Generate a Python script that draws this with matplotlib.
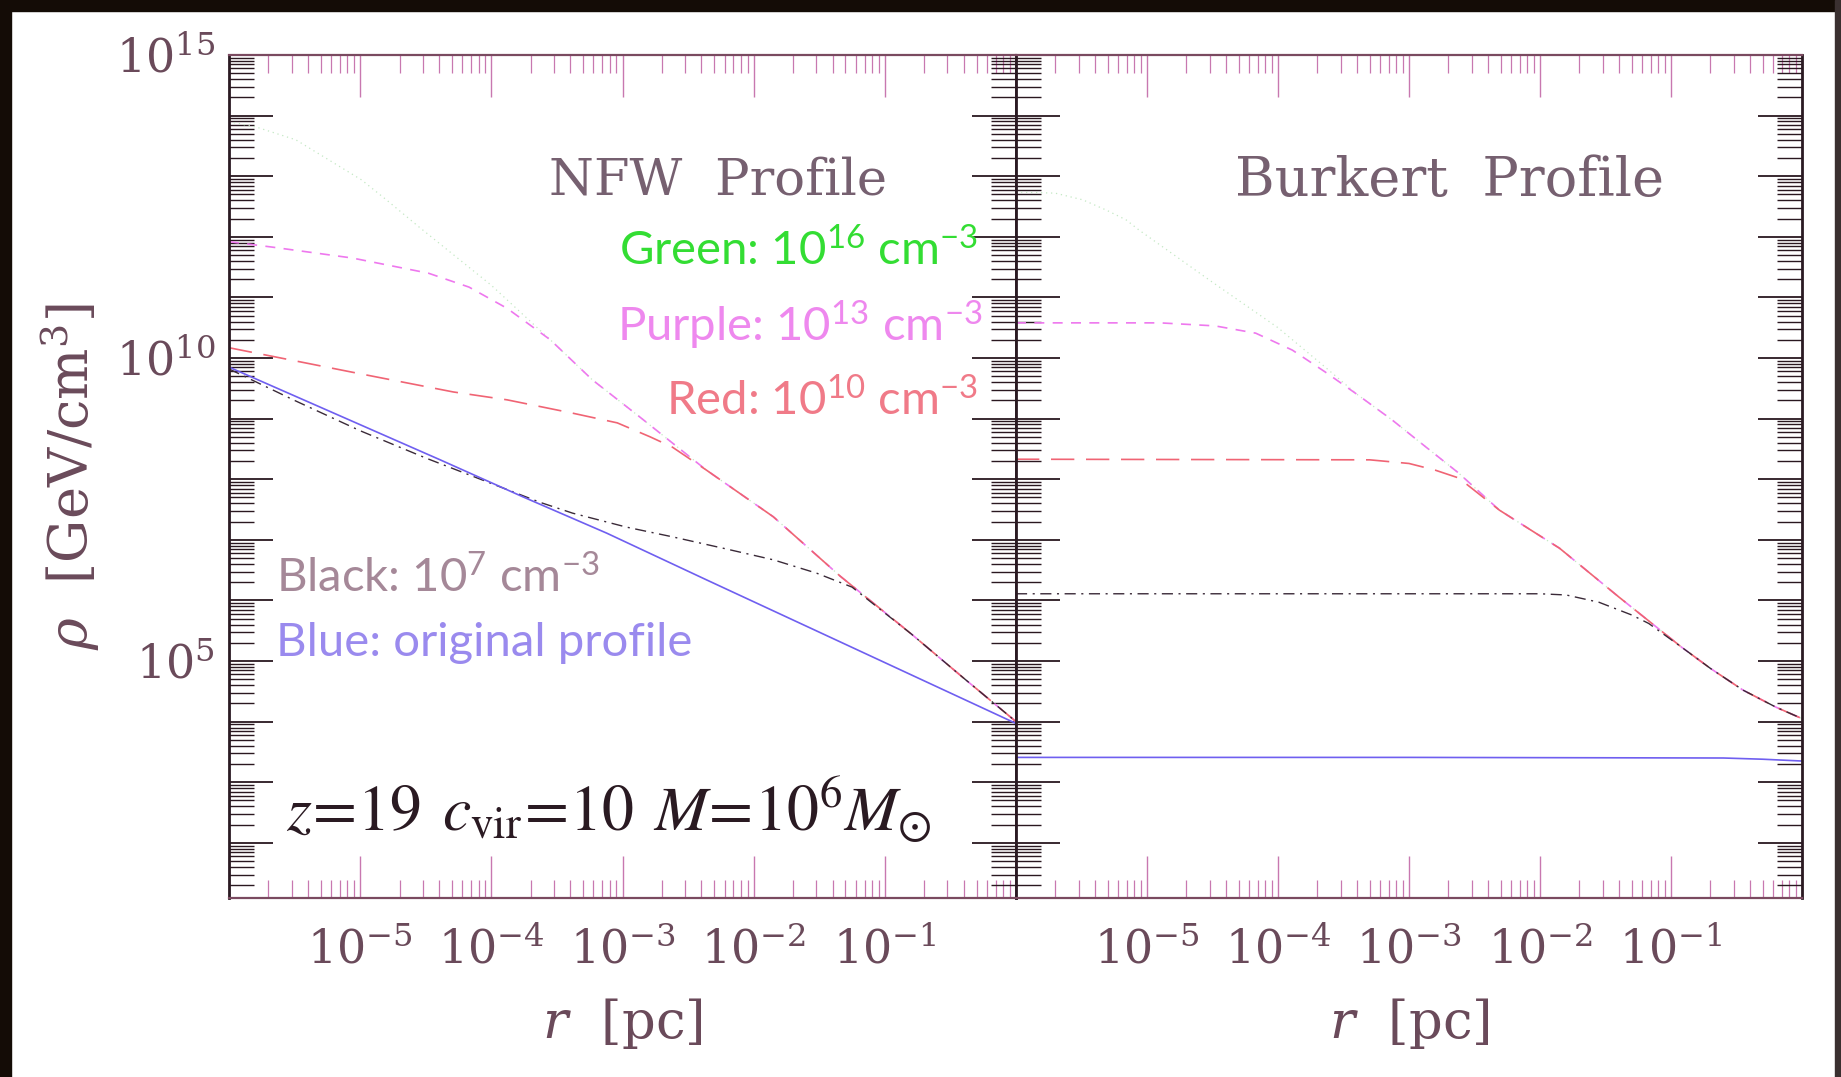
import numpy as np
import matplotlib
matplotlib.use("Agg")
import matplotlib.pyplot as plt
from matplotlib.ticker import LogLocator, FuncFormatter, NullFormatter
from matplotlib.patches import Rectangle

plt.rcParams['mathtext.fontset'] = 'custom'
plt.rcParams['mathtext.rm'] = 'Lato'
plt.rcParams['mathtext.it'] = 'Lato:italic'
plt.rcParams['mathtext.bf'] = 'Lato:bold'

# ---------------- data (log10 r [pc], log10 rho [GeV/cm^3]) ----------------
# NFW panel
nfw_blue_x  = [-6.0, -4.39, -3.76, -3.12, -2.36, 0.0]
nfw_blue_y  = [9.85, 8.32, 7.71, 7.11, 6.34, 3.97]
nfw_black_x = [-6.0, -5.5, -5.0, -4.5, -4.0, -3.63, -3.38, -2.97, -2.62, -2.23, -1.85, -1.52, -1.25, -0.8, -0.4, 0.0]
nfw_black_y = [9.82, 9.30, 8.80, 8.35, 7.93, 7.62, 7.44, 7.21, 7.05, 6.86, 6.67, 6.45, 6.22, 5.45, 4.72, 4.0]
nfw_red_x   = [-6.0, -5.0, -4.29, -3.88, -3.38, -3.04, -2.79, -2.62, -2.36, -1.85, -1.34, -0.8, -0.4, 0.0]
nfw_red_y   = [10.17, 9.74, 9.44, 9.31, 9.09, 8.93, 8.70, 8.53, 8.15, 7.38, 6.40, 5.45, 4.72, 4.0]
nfw_purple_x = [-6.0, -5.67, -5.06, -4.48, -4.17, -3.88, -3.55, -3.23, -2.87, -2.36, -1.85, -1.34, -0.8, -0.4, 0.0]
nfw_purple_y = [11.92, 11.83, 11.65, 11.40, 11.17, 10.82, 10.30, 9.64, 9.03, 8.15, 7.38, 6.40, 5.45, 4.72, 4.0]
nfw_green_x = [-6.0, -5.79, -5.49, -5.24, -4.99, -4.80, -4.55, -4.0, -3.55, -3.23, -2.87, -2.36, -1.85, -1.34, -0.8, -0.4, 0.0]
nfw_green_y = [13.90, 13.81, 13.60, 13.27, 12.94, 12.61, 12.16, 11.20, 10.30, 9.64, 9.03, 8.15, 7.38, 6.40, 5.45, 4.72, 4.0]

# Burkert panel
bur_blue_x  = [-6.0, -3.0, -0.6, -0.3, 0.0]
bur_blue_y  = [3.41, 3.41, 3.40, 3.38, 3.35]
bur_black_x = [-6.0, -2.0, -1.80, -1.55, -1.30, -1.17, -0.92, -0.70, -0.45, -0.20, 0.0]
bur_black_y = [6.11, 6.11, 6.09, 5.97, 5.76, 5.62, 5.23, 4.88, 4.52, 4.24, 4.05]
bur_red_x   = [-6.0, -3.3, -3.0, -2.8, -2.62, -2.31, -1.85, -1.40, -0.92, -0.70, -0.45, -0.20, 0.0]
bur_red_y   = [8.33, 8.32, 8.26, 8.15, 8.02, 7.49, 6.86, 6.06, 5.23, 4.88, 4.52, 4.24, 4.05]
bur_purple_x = [-6.0, -4.9, -4.48, -4.17, -3.89, -3.64, -3.39, -3.13, -2.87, -2.62, -2.31, -1.85, -1.40, -0.92, -0.70, -0.45, -0.20, 0.0]
bur_purple_y = [10.58, 10.58, 10.53, 10.41, 10.13, 9.77, 9.39, 8.98, 8.53, 8.10, 7.49, 6.86, 6.06, 5.23, 4.88, 4.52, 4.24, 4.05]
bur_green_x = [-6.0, -5.70, -5.49, -5.31, -5.16, -5.06, -4.5, -4.0, -3.64, -3.39, -3.13, -2.87, -2.62, -2.31, -1.85, -1.40, -0.92, -0.70, -0.45, -0.20, 0.0]
bur_green_y = [12.74, 12.72, 12.61, 12.44, 12.28, 12.11, 11.25, 10.50, 9.85, 9.39, 8.98, 8.53, 8.10, 7.49, 6.86, 6.06, 5.23, 4.88, 4.52, 4.24, 4.05]

x_tick_exps = [-5, -4, -3, -2, -1]
y_label_exps = [5, 10, 15]

# ---------------- styling ----------------
C_BLUE = '#6f5ff0'
C_BLACK = '#3a2a38'
C_RED = '#f06474'
C_PURPLE = '#ee78ee'
C_GREEN = '#c4e8c4'
C_TICKX = '#c878b0'
C_TICKY = '#2a1820'
C_LABEL = '#6a4a5a'

W, H = 1841, 1077
fig = plt.figure(figsize=(W / 100, H / 100), dpi=100, facecolor='white')

x0, xm, x1 = 229, 1016, 1802
ytop, ybot = 55, 898
axL = fig.add_axes([x0 / W, 1 - ybot / H, (xm - x0) / W, (ybot - ytop) / H])
axR = fig.add_axes([xm / W, 1 - ybot / H, (x1 - xm) / W, (ybot - ytop) / H])

def L(v):
    return 10.0 ** np.asarray(v)

def draw(ax, gx, gy, px, py, rx, ry, kx, ky, bx, by):
    ax.plot(L(gx), L(gy), color=C_GREEN, lw=0.9, ls=(0, (1, 3)))
    ax.plot(L(px), L(py), color=C_PURPLE, lw=1.2, ls=(0, (6, 5)))
    ax.plot(L(rx), L(ry), color=C_RED, lw=1.2, ls=(0, (14, 7)))
    ax.plot(L(kx), L(ky), color=C_BLACK, lw=1.0, ls=(0, (8, 4, 1.5, 4)))
    ax.plot(L(bx), L(by), color=C_BLUE, lw=1.2, ls='-')

draw(axL, nfw_green_x, nfw_green_y, nfw_purple_x, nfw_purple_y, nfw_red_x, nfw_red_y,
     nfw_black_x, nfw_black_y, nfw_blue_x, nfw_blue_y)
draw(axR, bur_green_x, bur_green_y, bur_purple_x, bur_purple_y, bur_red_x, bur_red_y,
     bur_black_x, bur_black_y, bur_blue_x, bur_blue_y)

def xfmt(v, pos):
    e = int(round(np.log10(v)))
    if e in x_tick_exps:
        return r'$10^{%d}$' % e
    return ''

def yfmt(v, pos):
    e = int(round(np.log10(v)))
    if e in y_label_exps:
        return r'$10^{%d}$' % e
    return ''

for i, ax in enumerate((axL, axR)):
    ax.set_xscale('log')
    ax.set_yscale('log')
    ax.set_xlim(1e-6, 1.0)
    ax.set_ylim(10 ** 1.09, 1e15)
    ax.xaxis.set_major_locator(LogLocator(base=10, numticks=20))
    ax.xaxis.set_minor_locator(LogLocator(base=10, subs=np.arange(2, 10), numticks=100))
    ax.yaxis.set_major_locator(LogLocator(base=10, numticks=30))
    ax.yaxis.set_minor_locator(LogLocator(base=10, subs=np.arange(2, 10), numticks=200))
    ax.xaxis.set_major_formatter(FuncFormatter(xfmt))
    ax.xaxis.set_minor_formatter(NullFormatter())
    ax.yaxis.set_minor_formatter(NullFormatter())
    if i == 0:
        ax.yaxis.set_major_formatter(FuncFormatter(yfmt))
    else:
        ax.yaxis.set_major_formatter(NullFormatter())
    ax.tick_params(axis='x', which='both', direction='in', top=True, bottom=True,
                   color=C_TICKX, labelcolor=C_LABEL, labelsize=33, pad=22)
    ax.tick_params(axis='x', which='major', length=30, width=1.0)
    ax.tick_params(axis='x', which='minor', length=13, width=0.9)
    ax.tick_params(axis='y', which='both', direction='in', left=True, right=True,
                   color=C_TICKY, labelcolor=C_LABEL, labelsize=33, pad=10)
    ax.tick_params(axis='y', which='major', length=32, width=1.3)
    ax.tick_params(axis='y', which='minor', length=18, width=1.0)
    for s in ('left', 'right'):
        ax.spines[s].set_color('#2a1a22')
        ax.spines[s].set_linewidth(2.0)
    for s in ('top', 'bottom'):
        ax.spines[s].set_color('#7a4a60')
        ax.spines[s].set_linewidth(1.6)
    ax.set_xlabel(r'$r$  [pc]', fontsize=38, color=C_LABEL, family='DejaVu Serif',
                  math_fontfamily='dejavuserif', labelpad=16)

for lab in axL.get_xticklabels() + axL.get_yticklabels() + axR.get_xticklabels():
    lab.set_math_fontfamily('dejavuserif')
    lab.set_family('DejaVu Serif')

axL.set_ylabel(r'$\rho$  [GeV/cm$^3$]', fontsize=39, color=C_LABEL, family='DejaVu Serif',
               math_fontfamily='dejavuserif', labelpad=10)

# panel titles
axL.text(0.622, 0.851, 'NFW  Profile', transform=axL.transAxes, ha='center', va='center',
         fontsize=37, color='#766070', family='DejaVu Serif')
axR.text(0.551, 0.851, 'Burkert  Profile', transform=axR.transAxes, ha='center', va='center',
         fontsize=39, color='#766070', family='DejaVu Serif')

# annotations
ann_kw = dict(transform=axL.transAxes, fontsize=34, family='Lato', math_fontfamily='custom')
axL.text(0.952, 0.768, r'Green: 10$^{16}$ cm$^{-3}$', ha='right', va='center', color='#33dd33', **ann_kw)
axL.text(0.958, 0.680, r'Purple: 10$^{13}$ cm$^{-3}$', ha='right', va='center', color='#ee88ee', **ann_kw)
axL.text(0.952, 0.590, r'Red: 10$^{10}$ cm$^{-3}$', ha='right', va='center', color='#f07a88', **ann_kw)
axL.text(0.06, 0.381, r'Black: 10$^{7}$ cm$^{-3}$', ha='left', va='center', color='#a58898', **ann_kw)
axL.text(0.06, 0.302, 'Blue: original profile', ha='left', va='center', color='#9a8aee', **ann_kw)

axL.text(0.072, 0.105, r'$z\!=\!19\;\,c_{\rm vir}\!=\!10\;\,M\!=\!10^6M_{\odot}$', transform=axL.transAxes,
         ha='left', va='center', fontsize=46, color='#2a1a22', math_fontfamily='stix')

# black frame bands of the screenshot
fig.add_artist(Rectangle((0, 1 - 11 / H), 1, 11 / H, transform=fig.transFigure, color='#140c06', zorder=10))
fig.add_artist(Rectangle((0, 0), 11 / W, 1, transform=fig.transFigure, color='#140c06', zorder=10))
fig.add_artist(Rectangle((1 - 6 / W, 0), 6 / W, 1, transform=fig.transFigure, color='#3a3030', zorder=10))

fig.savefig('out.png', dpi=100, facecolor='white')
